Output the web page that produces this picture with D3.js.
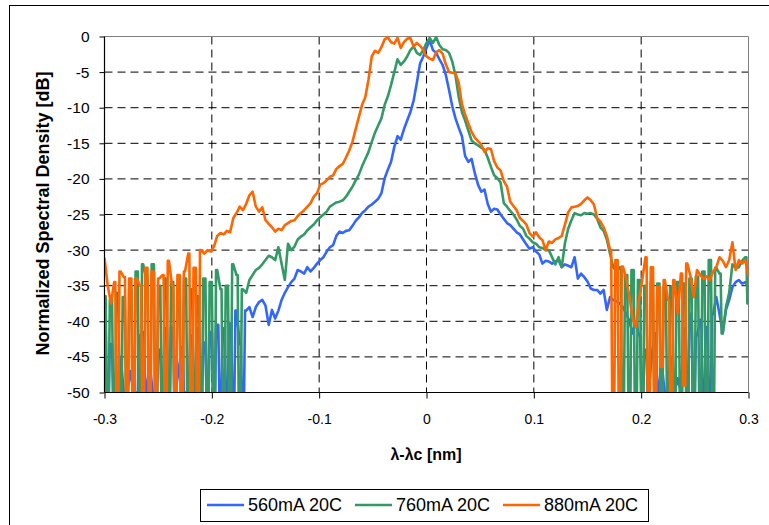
<!DOCTYPE html>
<html>
<head>
<meta charset="utf-8">
<script src="https://cdn.jsdelivr.net/npm/d3@7"></script>
<style>
  html, body { margin: 0; padding: 0; background: #fff; }
  svg { display: block; font-family: "Liberation Sans", Arial, sans-serif; }
</style>
</head>
<body>
<svg id="chart" width="769" height="525"></svg>
<script>
// ---------------- DATA ----------------
const xStart = -0.3;          // nm, first sample
const xStep = 0.003;          // nm between samples
const xTicks = [-0.3, -0.2, -0.1, 0, 0.1, 0.2, 0.3];
const xTickLabels = ["-0.3", "-0.2", "-0.1", "0", "0.1", "0.2", "0.3"];
const yTicks = [0, -5, -10, -15, -20, -25, -30, -35, -40, -45, -50];
const yTickLabels = ["0", "-5", "-10", "-15", "-20", "-25", "-30", "-35", "-40", "-45", "-50"];
const seriesNames = ["560mA 20C", "760mA 20C", "880mA 20C"];

const blue560 = [
  -40.5, -50, -43.2, -50, -50, -45.0, -50, -50, -47.0, -50,
  -50, -42.0, -41.5, -50, -46.0, -50, -50, -44.0, -50, -41.0,
  -50, -40.8, -50, -47.0, -43.6, -50, -50, -42.0, -50, -41.0,
  -50, -43.0, -50, -41.5, -50, -40.5, -50, -41.0, -50, -40.3,
  -50, -38.5, -43.2, -50, -38.5, -38.0, -39.4, -38.0, -37.3, -37.0,
  -37.8, -40.5, -38.4, -39.6, -38.5, -37.0, -36.0, -35.2, -34.5, -34.0,
  -32.8, -33.0, -33.3, -32.4, -33.0, -32.5, -31.9, -31.4, -31.0, -30.2,
  -29.6, -29.3, -28.0, -27.4, -27.6, -27.3, -27.2, -26.6, -25.9, -25.4,
  -24.8, -24.4, -23.9, -23.6, -23.2, -22.8, -22.0, -19.9, -18.7, -17.6,
  -15.5, -14.0, -14.5, -13.0, -11.8, -10.6, -9.0, -6.5, -3.8, -2.8,
  -1.6, -0.5, -1.9, -2.3, -3.2, -4.0, -5.4, -7.5, -9.8, -11.5,
  -12.8, -14.0, -16.8, -17.6, -17.2, -19.2, -20.8, -21.8, -21.5, -23.5,
  -24.6, -24.2, -24.3, -25.0, -25.6, -26.2, -26.5, -27.0, -27.5, -27.8,
  -28.5, -29.2, -29.8, -29.6, -30.2, -30.6, -31.9, -31.5, -31.6, -31.9,
  -31.6, -31.4, -32.4, -32.0, -32.2, -32.4, -31.0, -34.0, -33.3, -33.8,
  -34.4, -35.4, -35.6, -35.6, -36.1, -35.6, -38.4, -36.6, -37.0, -37.2,
  -37.5, -38.0, -38.9, -40.0, -41.7, -40.0, -42.0, -50, -44.0, -50,
  -44.5, -41.7, -50, -46.0, -50, -50, -45.0, -50, -48.0, -50,
  -41.0, -50, -38.9, -50, -42.0, -39.8, -50, -40.8, -50, -39.0,
  -36.6, -39.0, -41.7, -38.4, -37.0, -35.2, -34.5, -34.2, -34.7, -34.5,
  -35.2
];

const green760 = [
  -36.5, -50, -37.0, -50, -36.0, -50, -36.6, -50, -35.5, -50,
  -33.0, -50, -32.0, -34.0, -50, -32.0, -50, -35.0, -50, -34.0,
  -50, -34.5, -50, -36.0, -50, -34.0, -50, -35.5, -50, -36.5,
  -50, -34.0, -50, -34.5, -50, -32.8, -35.5, -50, -35.0, -50,
  -32.0, -33.5, -50, -35.5, -36.0, -34.2, -33.5, -32.8, -32.5, -32.0,
  -31.4, -30.8, -31.0, -31.4, -29.6, -31.9, -34.2, -29.1, -30.0, -29.5,
  -28.5, -28.1, -27.8, -27.2, -26.8, -26.4, -25.8, -25.4, -25.0, -24.6,
  -23.9, -23.6, -23.3, -23.2, -23.0, -22.5, -21.8, -21.1, -20.2, -19.4,
  -18.2, -17.2, -16.2, -14.8, -13.5, -12.5, -11.5, -9.6, -8.4, -6.8,
  -5.0, -3.2, -4.0, -3.5, -2.8, -1.9, -1.4, -2.3, -2.6, -1.9,
  -0.9, -0.2, -0.9, -0.1, -1.2, -1.8, -1.9, -2.3, -3.5, -5.5,
  -8.5, -10.6, -11.8, -13.2, -14.6, -15.0, -15.3, -15.6, -15.9, -17.0,
  -18.3, -19.5, -19.9, -20.5, -23.4, -23.9, -24.5, -25.0, -25.7, -26.6,
  -27.0, -28.0, -28.4, -28.9, -29.1, -29.6, -29.7, -30.0, -30.0, -31.0,
  -32.0, -31.0, -32.4, -29.0, -27.0, -25.8, -24.8, -25.0, -25.1, -24.8,
  -24.9, -24.8, -25.0, -25.6, -26.8, -27.3, -28.5, -30.5, -32.4, -33.0,
  -32.4, -50, -33.5, -50, -32.8, -50, -34.2, -50, -35.0, -50,
  -34.5, -50, -34.7, -50, -35.0, -50, -35.2, -50, -34.5, -50,
  -34.7, -50, -34.0, -50, -33.7, -50, -33.0, -50, -31.4, -50,
  -32.5, -33.3, -41.7, -38.0, -36.0, -32.0, -32.5, -32.4, -31.5, -31.0,
  -37.5
];

const orange880 = [
  -31.1, -35.0, -37.5, -34.5, -50, -33.0, -33.8, -50, -34.0, -50,
  -34.0, -35.0, -50, -32.5, -50, -33.0, -50, -34.0, -33.5, -50,
  -31.5, -35.0, -50, -33.5, -50, -33.0, -30.5, -50, -32.5, -50,
  -30.0, -30.5, -30.0, -30.2, -29.5, -28.0, -27.6, -27.8, -27.3, -27.5,
  -25.5, -24.8, -23.9, -24.4, -23.5, -22.3, -21.8, -23.9, -24.6, -24.0,
  -25.8, -26.3, -26.8, -27.4, -27.0, -27.2, -26.5, -26.2, -25.9, -25.8,
  -25.2, -24.8, -24.4, -23.9, -23.4, -22.5, -22.0, -20.8, -20.6, -20.2,
  -19.7, -19.5, -18.6, -18.2, -17.9, -17.0, -16.0, -14.8, -13.0, -11.3,
  -9.6, -8.5, -6.0, -2.8, -2.0, -2.3, -1.5, -0.4, -0.1, -0.8,
  -1.0, -0.2, -1.6, -0.8, -0.3, -0.2, -1.4, -0.9, -1.3, -1.9,
  -2.8, -3.1, -3.3, -2.2, -1.9, -2.4, -3.9, -5.0, -5.1, -5.2,
  -6.5, -9.5, -11.0, -12.2, -13.4, -14.2, -14.7, -15.2, -16.2, -15.7,
  -15.8, -17.5, -18.4, -18.8, -20.3, -21.1, -23.2, -23.8, -24.4, -25.5,
  -25.9, -26.4, -27.6, -28.1, -27.5, -28.2, -28.6, -30.0, -28.8, -29.0,
  -28.5, -28.3, -28.0, -26.4, -24.7, -24.0, -23.9, -23.8, -23.5, -23.0,
  -22.6, -23.0, -23.6, -25.5, -26.0, -26.8, -28.0, -30.0, -50, -31.4,
  -50, -32.3, -34.0, -36.5, -39.5, -40.8, -37.0, -34.2, -31.0, -50,
  -32.4, -50, -35.2, -46.4, -34.2, -37.0, -50, -34.2, -38.9, -33.3,
  -49.0, -31.9, -33.7, -36.6, -32.8, -33.5, -34.0, -33.7, -34.2, -33.0,
  -32.4, -31.0, -31.5, -32.4, -31.4, -28.9, -32.8, -31.4, -31.9, -31.4,
  -33.7
];

const seriesValues = [blue560, green760, orange880];
const seriesColors = ["#3366FF", "#339966", "#FF6600"];

// ---------------- DRAW ----------------
const svg = d3.select("#chart");
const plot = { left: 104.5, right: 748.5, top: 36.5, bottom: 392.5 };

const x = d3.scaleLinear().domain([-0.3, 0.3]).range([plot.left, plot.right]);
const y = d3.scaleLinear().domain([-50, 0]).range([plot.bottom, plot.top]);

// Curve: linear, but large jumps (noise-floor drop-outs) are drawn as near-vertical strokes
function SpikeCurve(context) { this._context = context; }
SpikeCurve.prototype = {
  areaStart() {},
  areaEnd() {},
  lineStart() { this._point = 0; },
  lineEnd() {},
  point(px, py) {
    px = +px; py = +py;
    if (this._point === 0) {
      this._point = 1;
      this._context.moveTo(px, py);
    } else {
      if (Math.abs(py - this._y0) > 40) {
        const dx = px - this._x0;
        this._context.lineTo(this._x0 + dx * 0.35, this._y0);
        this._context.lineTo(this._x0 + dx * 0.65, py);
      }
      this._context.lineTo(px, py);
    }
    this._x0 = px; this._y0 = py;
  }
};
const curveSpike = context => new SpikeCurve(context);

// outer chart border
svg.append("rect")
  .attr("x", 9.5).attr("y", 5.5).attr("width", 800).attr("height", 600)
  .attr("fill", "#fff").attr("stroke", "#000").attr("stroke-width", 1);

// gridlines
const grid = svg.append("g");
grid.selectAll("line.h").data(yTicks.filter(v => v !== 0 && v !== -50)).join("line")
  .attr("x1", plot.left).attr("x2", plot.right)
  .attr("y1", d => y(d)).attr("y2", d => y(d))
  .attr("stroke", "#000").attr("stroke-dasharray", "8,5").attr("stroke-width", 1);
grid.selectAll("line.v").data(xTicks.filter(v => v !== -0.3 && v !== 0.3)).join("line")
  .attr("y1", plot.top).attr("y2", plot.bottom)
  .attr("x1", d => x(d)).attr("x2", d => x(d))
  .attr("stroke", "#000").attr("stroke-dasharray", "8,5").attr("stroke-width", 1);

// top/right plot border (gray)
svg.append("path")
  .attr("d", `M${plot.left},${plot.top}H${plot.right}V${plot.bottom}`)
  .attr("fill", "none").attr("stroke", "#808080").attr("stroke-width", 1);

// series
svg.append("defs").append("clipPath").attr("id", "clip")
  .append("rect").attr("x", plot.left).attr("y", plot.top - 2)
  .attr("width", plot.right - plot.left).attr("height", plot.bottom - plot.top + 2);

const line = d3.line()
  .x((d, i) => x(xStart + i * xStep))
  .y(d => y(d))
  .curve(curveSpike);

const lines = svg.append("g").attr("clip-path", "url(#clip)");
seriesValues.forEach((vals, k) => {
  lines.append("path")
    .datum(vals)
    .attr("d", line)
    .attr("fill", "none")
    .attr("stroke", seriesColors[k])
    .attr("stroke-width", 2.6)
    .attr("stroke-linejoin", "round");
});

// axes
const xAxis = d3.axisBottom(x).tickValues(xTicks).tickFormat((d, i) => xTickLabels[i]).tickSize(6).tickPadding(16);
const yAxis = d3.axisLeft(y).tickValues(yTicks).tickFormat((d, i) => yTickLabels[i]).tickSize(5).tickPadding(10);

const gx = svg.append("g").attr("transform", `translate(0,${plot.bottom})`).call(xAxis);
const gy = svg.append("g").attr("transform", `translate(${plot.left},0)`).call(yAxis);
[gx, gy].forEach(g => {
  g.select(".domain").attr("stroke", "#000").attr("stroke-width", 1.2);
  g.selectAll(".tick line").attr("stroke", "#000");
  g.selectAll("text").attr("fill", "#000").attr("font-family", "'Liberation Sans', Arial, sans-serif");
});
gx.selectAll("text").attr("font-size", 14);
gy.selectAll("text").attr("font-size", 15.5);
gx.select(".domain").attr("d", `M${plot.left},0H${plot.right}`);
gy.select(".domain").attr("d", `M0,${plot.top}V${plot.bottom}`);

// axis titles
svg.append("text")
  .attr("x", 426).attr("y", 460)
  .attr("text-anchor", "middle")
  .attr("font-size", 16).attr("font-weight", "bold")
  .text("λ-λc [nm]");

svg.append("text")
  .attr("transform", "translate(48.5,213.5) rotate(-90)")
  .attr("text-anchor", "middle")
  .attr("font-size", 18).attr("font-weight", "bold")
  .text("Normalized Spectral Density [dB]");

// legend
const legend = svg.append("g");
legend.append("rect")
  .attr("x", 200.5).attr("y", 489.5).attr("width", 448).attr("height", 32)
  .attr("fill", "#fff").attr("stroke", "#000").attr("stroke-width", 1);
const legendX = [207, 355, 503];
seriesNames.forEach((name, k) => {
  legend.append("line")
    .attr("x1", legendX[k]).attr("x2", legendX[k] + 37)
    .attr("y1", 505).attr("y2", 505)
    .attr("stroke", seriesColors[k]).attr("stroke-width", 2.6);
  legend.append("text")
    .attr("x", legendX[k] + 41).attr("y", 511)
    .attr("font-size", 18)
    .text(name);
});
</script>
</body>
</html>
